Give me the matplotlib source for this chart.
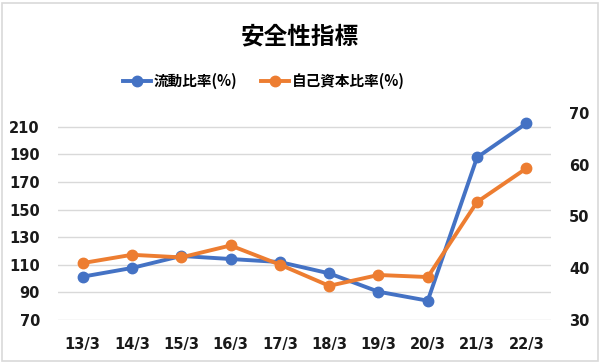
import matplotlib.pyplot as plt
from matplotlib.patches import Rectangle

plt.rcParams['font.family'] = ['Noto Sans CJK JP', 'DejaVu Sans']

years = ['13/3', '14/3', '15/3', '16/3', '17/3', '18/3', '19/3', '20/3', '21/3', '22/3']
current_ratio = [101.4, 107.7, 116.4, 114.2, 112.0, 103.8, 90.5, 84.0, 187.8, 212.5]
equity_ratio = [41.0, 42.6, 42.1, 44.4, 40.7, 36.6, 38.7, 38.3, 52.8, 59.3]

blue = '#4472C4'
orange = '#ED7D31'

fig = plt.figure(figsize=(6, 3.63), dpi=100)
fig.patches.append(Rectangle((0.004, 0.006), 0.992, 0.986, transform=fig.transFigure,
                             fill=False, edgecolor='#D9D9D9', linewidth=1.2))

ax = fig.add_axes([58 / 600, 1 - 320 / 363, 493 / 600, 207 / 363])
ax2 = ax.twinx()

x = list(range(len(years)))
l1, = ax.plot(x, current_ratio, color=blue, lw=2.8, marker='o', ms=7.5, label='流動比率(%)')
l2, = ax2.plot(x, equity_ratio, color=orange, lw=2.8, marker='o', ms=7.5, label='自己資本比率(%)')

ax.set_xlim(-0.5, len(years) - 0.5)
ax.set_ylim(70, 220)
ax.set_yticks(range(70, 211, 20))
ax2.set_ylim(30, 70)
ax2.set_yticks(range(30, 71, 10))
ax.set_xticks(x)
ax.set_xticklabels(years)

ax.grid(axis='y', color='#D9D9D9', lw=1)
ax.set_axisbelow(True)
for a in (ax, ax2):
    for s in a.spines.values():
        s.set_visible(False)
    a.tick_params(length=0, labelsize=10.5, colors='#1a1a1a')
    for lab in a.get_xticklabels() + a.get_yticklabels():
        lab.set_fontweight('bold')
        lab.set_family('DejaVu Sans')
ax.tick_params(axis='x', pad=12)
ax.tick_params(axis='y', pad=13)
ax2.tick_params(axis='y', pad=13)

fig.text(0.5, 1 - 36 / 363, '安全性指標', ha='center', va='center', fontsize=17, fontweight='bold')
fig.legend(handles=[l1, l2], loc='center', bbox_to_anchor=(264 / 600, 1 - 81 / 363), ncol=2,
           frameon=False, prop={'weight': 'bold', 'size': 10.5}, handlelength=1.9,
           columnspacing=1.6, handletextpad=0.2)

fig.savefig('out.png', dpi=100)
